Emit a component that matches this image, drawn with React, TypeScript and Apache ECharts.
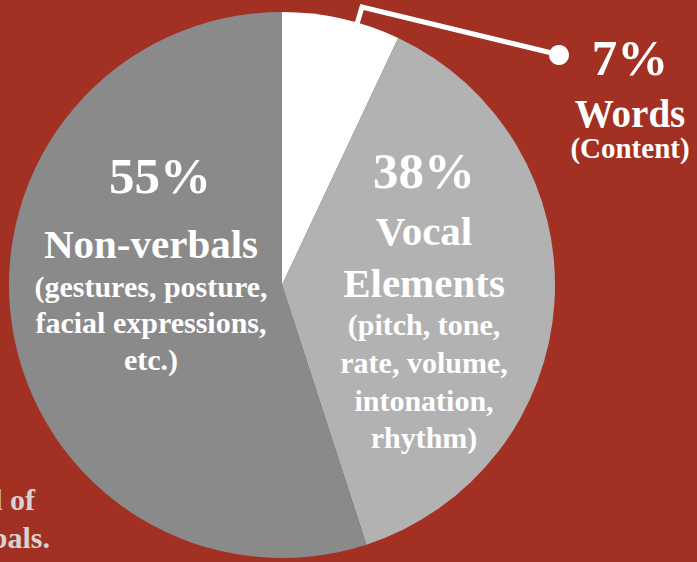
import React, { useEffect, useRef } from "react";
import * as echarts from "echarts";

const categories = ["Words", "Vocal Elements", "Non-verbals"];
const values = [7, 38, 55];
const titleLines = [["Words"], ["Vocal", "Elements"], ["Non-verbals"]];
const detailLines = [
  ["(Content)"],
  ["(pitch, tone,", "rate, volume,", "intonation,", "rhythm)"],
  ["(gestures, posture,", "facial expressions,", "etc.)"],
];
const footnoteLines = ["l of", "bals."];

export default function App() {
  const ref = useRef<HTMLDivElement>(null);

  useEffect(() => {
    document.body.style.margin = "0";
    const chart = echarts.init(ref.current!, null, { renderer: "svg" });
    const FONT = '"Liberation Serif", "Times New Roman", serif';
    const sliceColors = ["#ffffff", "#b2b2b2", "#8a8a8a"];

    const mid = (baseline: number, size: number) => baseline - 0.34 * size;
    const txt = (text: string, x: number, baseline: number, size: number, fill = "#ffffff", align = "center") => ({
      type: "text",
      silent: true,
      z: 100,
      style: {
        text,
        x,
        y: mid(baseline, size),
        fill,
        align,
        verticalAlign: "middle",
        font: `bold ${size}px ${FONT}`,
      },
    });

    const graphics: any[] = [];
    const layout = [
      { cx: 630, pct: 75, title: [127], titleSize: 39, det: [158], detSize: 29 },
      { cx: 424, pct: 188, title: [245, 297], titleSize: 41, det: [335, 373, 411, 448], detSize: 30 },
      { cx: 151, pct: 193, title: [258], titleSize: 41, det: [297, 333, 370], detSize: 30 },
    ];
    values.forEach((v, i) => {
      const L = layout[i];
      graphics.push(txt(`${v}%`, i === 2 ? 160 : L.cx, L.pct, 51));
      titleLines[i].forEach((t, j) => graphics.push(txt(t, L.cx, L.title[j], L.titleSize)));
      detailLines[i].forEach((t, j) => graphics.push(txt(t, L.cx, L.det[j], L.detSize)));
    });

    graphics.push({
      type: "polyline",
      silent: true,
      z: 100,
      shape: { points: [[357, 24], [362, 7], [556, 54]] },
      style: { stroke: "#ffffff", lineWidth: 5, fill: null, lineJoin: "miter" },
    });
    graphics.push({
      type: "circle",
      silent: true,
      z: 100,
      shape: { cx: 559, cy: 55, r: 10 },
      style: { fill: "#ffffff" },
    });

    graphics.push(txt(footnoteLines[0], 35, 510, 30, "#d8d2d2", "right"));
    graphics.push(txt(footnoteLines[1], 50, 548, 30, "#d8d2d2", "right"));

    chart.setOption({
      animation: false,
      backgroundColor: "#a23123",
      series: [
        {
          type: "pie",
          z: 2,
          center: [282, 285],
          radius: 273,
          startAngle: 90,
          clockwise: true,
          label: { show: false },
          labelLine: { show: false },
          emphasis: { disabled: true },
          silent: true,
          itemStyle: { borderWidth: 0 },
          data: categories.map((name, i) => ({
            name,
            value: values[i],
            itemStyle: { color: sliceColors[i] },
          })),
        },
      ],
      graphic: { elements: graphics },
    });

    return () => chart.dispose();
  }, []);

  return (
    <div
      ref={ref}
      style={{ position: "fixed", left: 0, top: 0, width: 697, height: 562 }}
    />
  );
}
